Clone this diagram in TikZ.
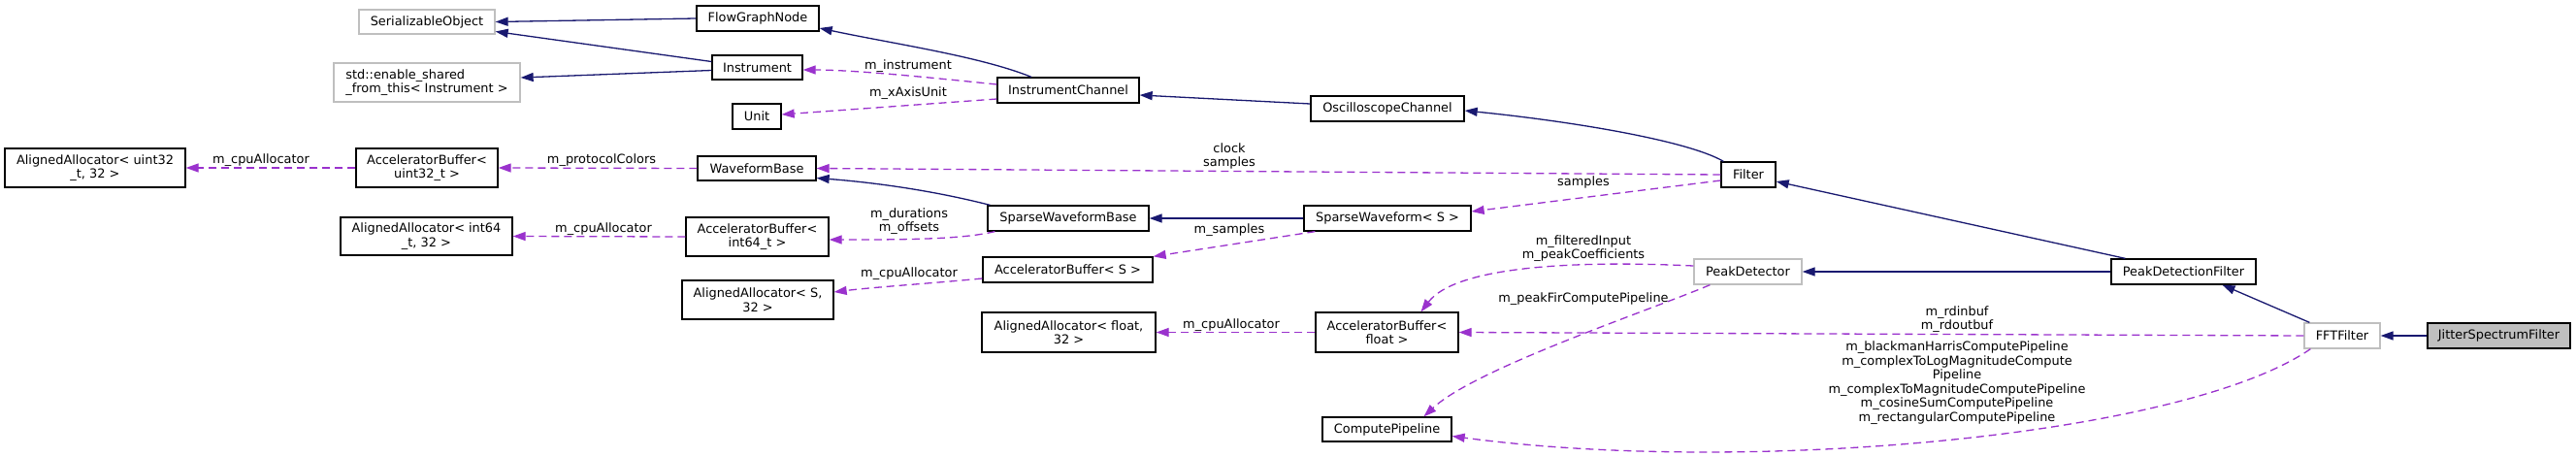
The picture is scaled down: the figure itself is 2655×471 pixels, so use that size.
\documentclass[tikz,border=0pt]{standalone}
\usepackage{fontspec}
\setmainfont{DejaVu Sans}
\usetikzlibrary{arrows.meta,calc}
\definecolor{inhc}{HTML}{191970}
\definecolor{usec}{HTML}{9A32CD}
\definecolor{grayb}{HTML}{BFBFBF}
\newcommand{\dfont}{\fontsize{12.9}{14.5}\selectfont}
\tikzset{
  cls/.style={draw=black, line width=1.3pt, fill=white, inner sep=0pt, font=\dfont, align=center, text=black},
  gcls/.style={cls, draw=grayb},
  rootcls/.style={cls, fill=grayb},
  inh/.style={draw=inhc, line width=1.3pt, -{Triangle[length=13pt,width=9pt,fill=inhc]}},
  use/.style={draw=usec, line width=1.3pt, dash pattern=on 8pt off 5pt, -{Triangle[length=13pt,width=9pt,fill=usec]}},
  lab/.style={font=\dfont, align=center, inner sep=0pt, text=black}
}
\begin{document}
\begin{tikzpicture}[x=1pt,y=-1pt]
\useasboundingbox[fill=white] (0,0) rectangle (2655,471);
% nodes
\node[gcls, minimum width=140, minimum height=25] (SO) at (440,22.5) {SerializableObject};
\node[cls, minimum width=126, minimum height=26] (FGN) at (781,19) {FlowGraphNode};
\node[cls, minimum width=93, minimum height=25] (Inst) at (780.5,69.5) {Instrument};
\node[gcls, minimum width=192, minimum height=40, align=left] (ESFT) at (440,85) {std::enable\_shared\\\_from\_this< Instrument >};
\node[cls, minimum width=50, minimum height=26] (Unit) at (780,120) {Unit};
\node[cls, minimum width=186, minimum height=40] (AAu) at (98,173) {AlignedAllocator< uint32\\\_t, 32 >};
\node[cls, minimum width=146, minimum height=40] (ABu) at (440,173) {AcceleratorBuffer<\\uint32\_t >};
\node[cls, minimum width=122, minimum height=25] (WB) at (780,173.5) {WaveformBase};
\node[cls, minimum width=177, minimum height=39] (AAi) at (439.5,243.5) {AlignedAllocator< int64\\\_t, 32 >};
\node[cls, minimum width=147, minimum height=40] (ABi) at (780.5,244) {AcceleratorBuffer<\\int64\_t >};
\node[cls, minimum width=156, minimum height=40] (AAS) at (781,309) {AlignedAllocator< S,\\32 >};
\node[cls, minimum width=146, minimum height=26] (IC) at (1101,93) {InstrumentChannel};
\node[cls, minimum width=158, minimum height=26] (OC) at (1430,112) {OscilloscopeChannel};
\node[cls, minimum width=166, minimum height=26] (SWB) at (1101,225) {SparseWaveformBase};
\node[cls, minimum width=172, minimum height=26] (SWS) at (1430,225) {SparseWaveform< S >};
\node[cls, minimum width=56, minimum height=26] (Filter) at (1802,180) {Filter};
\node[cls, minimum width=175, minimum height=26] (ABS) at (1100.5,278) {AcceleratorBuffer< S >};
\node[cls, minimum width=179, minimum height=41] (AAf) at (1101.5,342.5) {AlignedAllocator< float,\\32 >};
\node[cls, minimum width=147, minimum height=41] (ABf) at (1429.5,342.5) {AcceleratorBuffer<\\float >};
\node[cls, minimum width=133, minimum height=25] (CP) at (1429.5,442.5) {ComputePipeline};
\node[gcls, minimum width=111, minimum height=26] (PD) at (1801.5,280) {PeakDetector};
\node[cls, minimum width=149, minimum height=26] (PDF) at (2250.5,280) {PeakDetectionFilter};
\node[gcls, minimum width=78, minimum height=26] (FFT) at (2414,346) {FFTFilter};
\node[rootcls, minimum width=147, minimum height=26] (JSF) at (2575.5,346) {JitterSpectrumFilter};
% inheritance edges
\draw[inh] (FGN.west) -- (SO.east);
\draw[inh] ($(Inst.west)+(0,-6)$) -- ($(SO.east)+(0,10)$);
\draw[inh] ($(Inst.west)+(0,3)$) -- ($(ESFT.east)+(0,-5)$);
\draw[inh] ($(IC.north)+(-38,0)$) .. controls (1010,58) and (920,45) .. ($(FGN.east)+(0,10)$);
\draw[inh] ($(OC.west)+(0,-5)$) -- ($(IC.east)+(0,5)$);
\draw[inh] ($(Filter.north west)+(3,0)$) .. controls (1740,145) and (1620,125) .. ($(OC.east)+(0,2)$);
\draw[inh] ($(PDF.north west)+(15,0)$) -- ($(Filter.east)+(0,7)$);
\draw[inh] (PDF.west) -- (PD.east);
\draw[inh] ($(FFT.north west)+(6,0)$) -- ($(PDF.south)+(40,0)$);
\draw[inh] (JSF.west) -- (FFT.east);
\draw[inh] ($(SWB.north west)+(3,0)$) .. controls (960,196) and (900,188) .. ($(WB.east)+(0,10)$);
\draw[inh] (SWS.west) -- (SWB.east);
% usage edges
\draw[use] ($(IC.west)+(0,-6)$) .. controls (960,80) and (880,72) .. ($(Inst.east)+(0,2.5)$);
\draw[use] ($(IC.west)+(0,9)$) -- ($(Unit.east)+(0,-2)$);
\draw[use] (Filter.west) -- (WB.east);
\draw[use] ($(Filter.west)+(0,6)$) -- ($(SWS.east)+(0,-7)$);
\draw[use] (WB.west) -- (ABu.east);
\draw[use] (ABu.west) -- (AAu.east);
\draw[use] ($(SWB.south west)+(8,0)$) .. controls (990,247) and (930,247) .. ($(ABi.east)+(0,3)$);
\draw[use] (ABi.west) -- (AAi.east);
\draw[use] ($(SWS.south west)+(12,0)$) -- (ABS.north east);
\draw[use] ($(ABS.west)+(0,9)$) .. controls (960,292) and (900,296) .. ($(AAS.east)+(0,-8)$);
\draw[use] (ABf.west) -- (AAf.east);
\draw[use] ($(PD.west)+(0,-6)$) .. controls (1620,268) and (1500,275) .. ($(ABf.north)+(35,0)$);
\draw[use] ($(PD.south west)+(17,0)$) .. controls (1700,320) and (1520,380) .. ($(CP.north)+(38,0)$);
\draw[use] (FFT.west) -- (ABf.east);
\draw[use] ($(FFT.south west)+(7,0)$) .. controls (2250,450) and (1800,490) .. ($(CP.east)+(0,7)$);
% labels
\node[lab] (l1) at (936,68) {m\_instrument};
\node[lab] (l2) at (936,96) {m\_xAxisUnit};
\node[lab] (l3) at (1267,161) {clock\\samples};
\node[lab] (l4) at (1632,188) {samples};
\node[lab] (l5) at (620,165) {m\_protocolColors};
\node[lab] (l6) at (269,165) {m\_cpuAllocator};
\node[lab] (l7) at (937,228) {m\_durations\\m\_offsets};
\node[lab] (l8) at (622,236) {m\_cpuAllocator};
\node[lab] (l9) at (1267,237) {m\_samples};
\node[lab] (l10) at (937,282) {m\_cpuAllocator};
\node[lab] (l11) at (1269,335) {m\_cpuAllocator};
\node[lab] (l12) at (1632,256) {m\_filteredInput\\m\_peakCoefficients};
\node[lab] (l13) at (1632,308) {m\_peakFirComputePipeline};
\node[lab] (l14) at (2017,329) {m\_rdinbuf\\m\_rdoutbuf};
\node[lab] (l15) at (2017,394.5) {m\_blackmanHarrisComputePipeline\\m\_complexToLogMagnitudeCompute\\Pipeline\\m\_complexToMagnitudeComputePipeline\\m\_cosineSumComputePipeline\\m\_rectangularComputePipeline};
\end{tikzpicture}
\end{document}
